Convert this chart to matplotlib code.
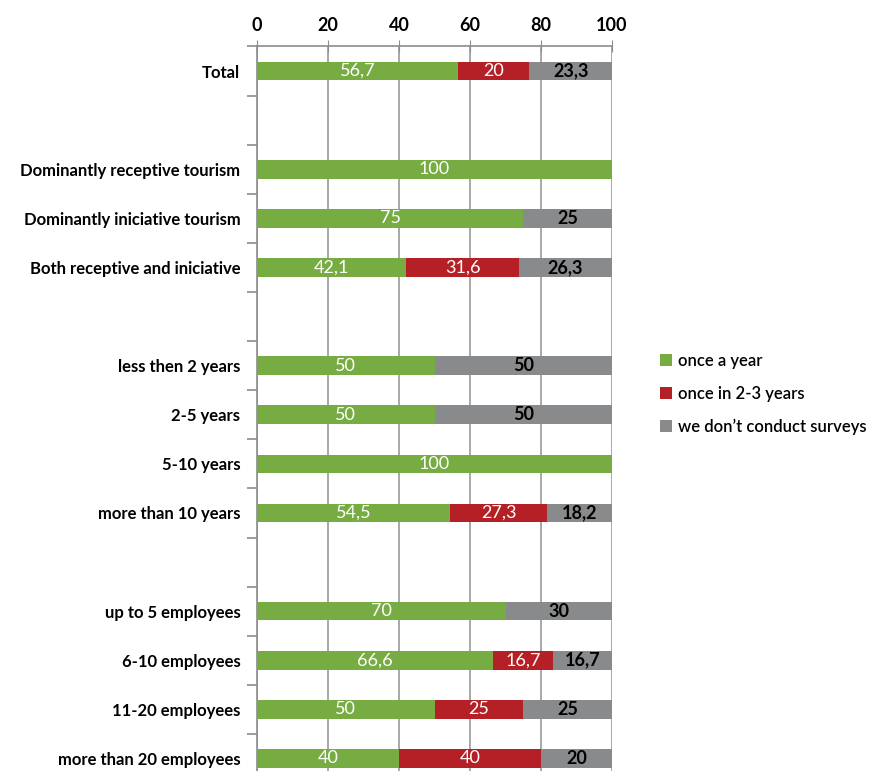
import matplotlib.pyplot as plt
import numpy as np

plt.rcParams['font.family'] = ['Lato', 'DejaVu Sans']

categories = ["Total", "",
              "Dominantly receptive tourism", "Dominantly iniciative tourism",
              "Both receptive and iniciative", "",
              "less then 2 years", "2-5 years", "5-10 years", "more than 10 years", "",
              "up to 5 employees", "6-10 employees", "11-20 employees", "more than 20 employees"]
once_a_year = [56.7, None, 100, 75, 42.1, None, 50, 50, 100, 54.5, None, 70, 66.6, 50, 40]
once_2_3 = [20, None, 0, 0, 31.6, None, 0, 0, 0, 27.3, None, 0, 16.7, 25, 40]
no_surveys = [23.3, None, 0, 25, 26.3, None, 50, 50, 0, 18.2, None, 30, 16.7, 25, 20]
series_names = ["once a year", "once in 2-3 years", "we don\u2019t conduct surveys"]
xticks = [0, 20, 40, 60, 80, 100]

colors = ["#77AC43", "#B42025", "#898A8C"]
text_colors = ["white", "white", "black"]
text_weights = ["normal", "normal", "bold"]

fig = plt.figure(figsize=(8.76, 7.71), dpi=100)
W, H = 876, 771
x0, x1 = 257, 612
ytop, ybot = 46.5, 783
ax = fig.add_axes([x0 / W, 1 - ybot / H, (x1 - x0) / W, (ybot - ytop) / H])

n = len(categories)
y = np.arange(n)
series = [once_a_year, once_2_3, no_surveys]
left = np.zeros(n)
bars = []
for vals, c, tc, tw, name in zip(series, colors, text_colors, text_weights, series_names):
    v = np.array([0 if a is None else a for a in vals], dtype=float)
    b = ax.barh(y, v, left=left, height=0.38, color=c, label=name, zorder=3)
    bars.append(b)
    for yi, (l, val) in enumerate(zip(left, v)):
        if val > 0:
            txt = f"{val:g}".replace(".", ",")
            ax.text(l + val / 2, yi, txt, ha="center", va="center",
                    color=tc, fontsize=13, fontweight=tw, zorder=4)
    left = left + v

ax.set_xlim(0, 100)
ax.set_ylim(n - 0.5, -0.5)
ax.xaxis.tick_top()
ax.set_xticks(xticks)
ax.set_xticklabels([str(t) for t in xticks], fontsize=13, fontweight="bold")
ax.tick_params(axis="x", direction="inout", length=8, color="#8c8c8c", pad=5)
ax.grid(axis="x", color="#9a9a9a", linewidth=1.2, zorder=0)

ax.set_yticks(y)
ax.set_yticklabels(categories, fontsize=12, fontweight="bold")
ax.tick_params(axis="y", length=0, pad=12)
ax.set_yticks(np.arange(n + 1) - 0.5, minor=True)
ax.tick_params(axis="y", which="minor", length=7, color="#8c8c8c", width=1.2)

for s in ["right", "bottom"]:
    ax.spines[s].set_visible(False)
for s in ["left", "top"]:
    ax.spines[s].set_color("#8c8c8c")
    ax.spines[s].set_linewidth(1.2)

fig.legend(handles=bars, labels=series_names, loc="upper left",
           bbox_to_anchor=(645 / W, 1 - 338 / H), frameon=False,
           prop={"size": 12, "weight": "semibold"}, handlelength=0.7, handleheight=0.7,
           handletextpad=0.4, labelspacing=1.0)

fig.savefig("out.png", dpi=100)
